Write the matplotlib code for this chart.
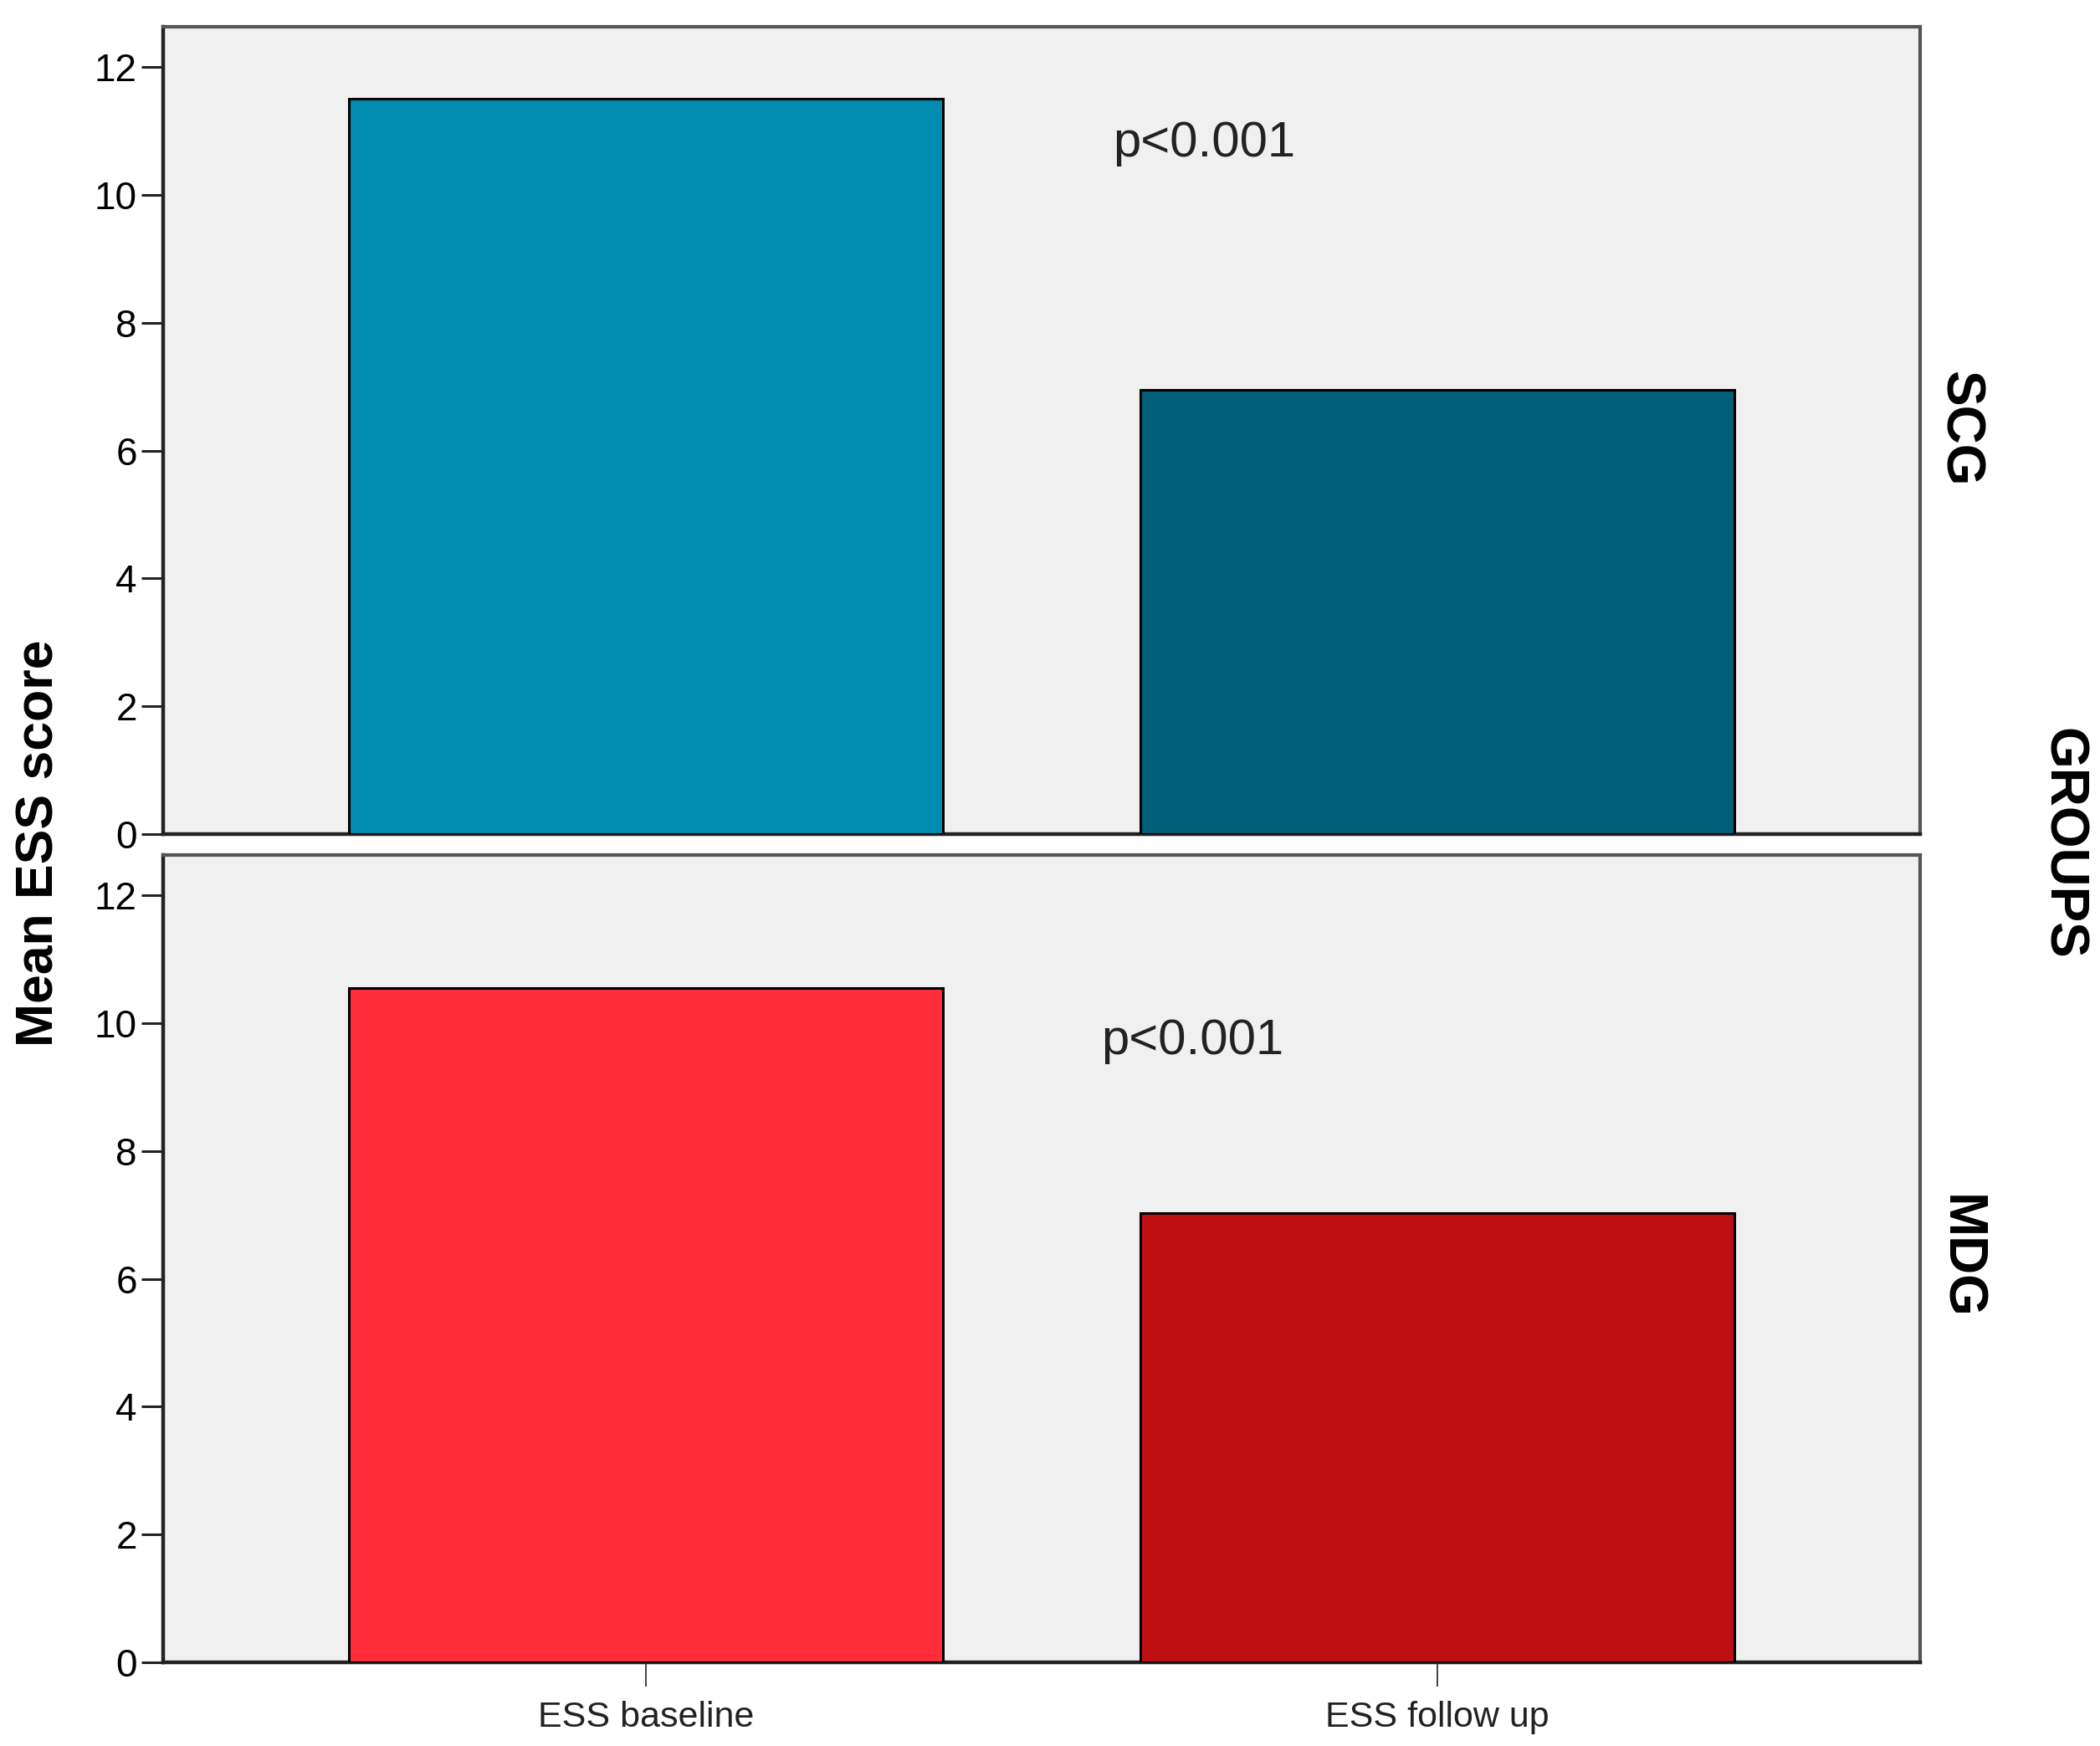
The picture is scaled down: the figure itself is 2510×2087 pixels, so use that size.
import matplotlib
matplotlib.use("Agg")
import matplotlib.pyplot as plt

categories = ["ESS baseline", "ESS follow up"]
groups = ["SCG", "MDG"]
scg_values = [11.5, 6.95]
mdg_values = [10.55, 7.03]
p_labels = ["p<0.001", "p<0.001"]
yticks = [0, 2, 4, 6, 8, 10, 12]

plt.rcParams['font.family'] = ['Liberation Sans', 'DejaVu Sans']

fig = plt.figure(figsize=(25.10, 20.87), dpi=100)
W, H = 2510, 2087

def ax_rect(l, t, r, b):
    return [l / W, 1 - b / H, (r - l) / W, (b - t) / H]

ax_top = fig.add_axes(ax_rect(195, 32, 2295, 997))
ax_bot = fig.add_axes(ax_rect(195, 1022, 2295, 1987))

colors = {"SCG": ["#008BB0", "#005E78"], "MDG": ["#FF2D37", "#BE1013"]}
vals = {"SCG": scg_values, "MDG": mdg_values}
p_pos = {"SCG": (0.59, 10.8), "MDG": (0.575, 9.72)}

x = list(range(len(categories)))
for ax, g, pl in zip([ax_top, ax_bot], groups, p_labels):
    ax.set_facecolor("#F0F0F0")
    ax.bar(x, vals[g], width=0.75, color=colors[g], edgecolor="black", linewidth=2.2, zorder=3)
    ax.set_xlim(-0.61, 1.61)
    ax.set_ylim(0, 12.63)
    ax.set_yticks(yticks)
    ax.tick_params(axis="y", length=19, width=2.2, pad=3.5, labelsize=33, colors="#222222", labelcolor="black")
    for s in ["left", "bottom"]:
        ax.spines[s].set_linewidth(3.2)
        ax.spines[s].set_color("#222222")
    for s in ["top", "right"]:
        ax.spines[s].set_linewidth(3.0)
        ax.spines[s].set_color("#555555")
    px, py = p_pos[g]
    ax.text(px, py, pl, fontsize=43, ha="left", va="center", color="#222222")
    fig.text(2342 / W, 1 - (512 if g == "SCG" else 1502) / H, g, rotation=270,
             fontsize=46, fontweight="bold", ha="center", va="center")

ax_top.set_xticks([])
ax_bot.set_xticks(x)
ax_bot.set_xticklabels(categories)
ax_bot.tick_params(axis="x", length=21, width=1.2, pad=12, labelsize=31, colors="#222222", labelcolor="#222222")

fig.text(47 / W, 1 - 1008 / H, "Mean ESS score", rotation=90, fontsize=45,
         fontweight="bold", ha="center", va="center")
fig.text(2465 / W, 1 - 1008 / H, "GROUPS", rotation=270, fontsize=46,
         fontweight="bold", ha="center", va="center")

fig.savefig("out.png", dpi=100, facecolor="white")
